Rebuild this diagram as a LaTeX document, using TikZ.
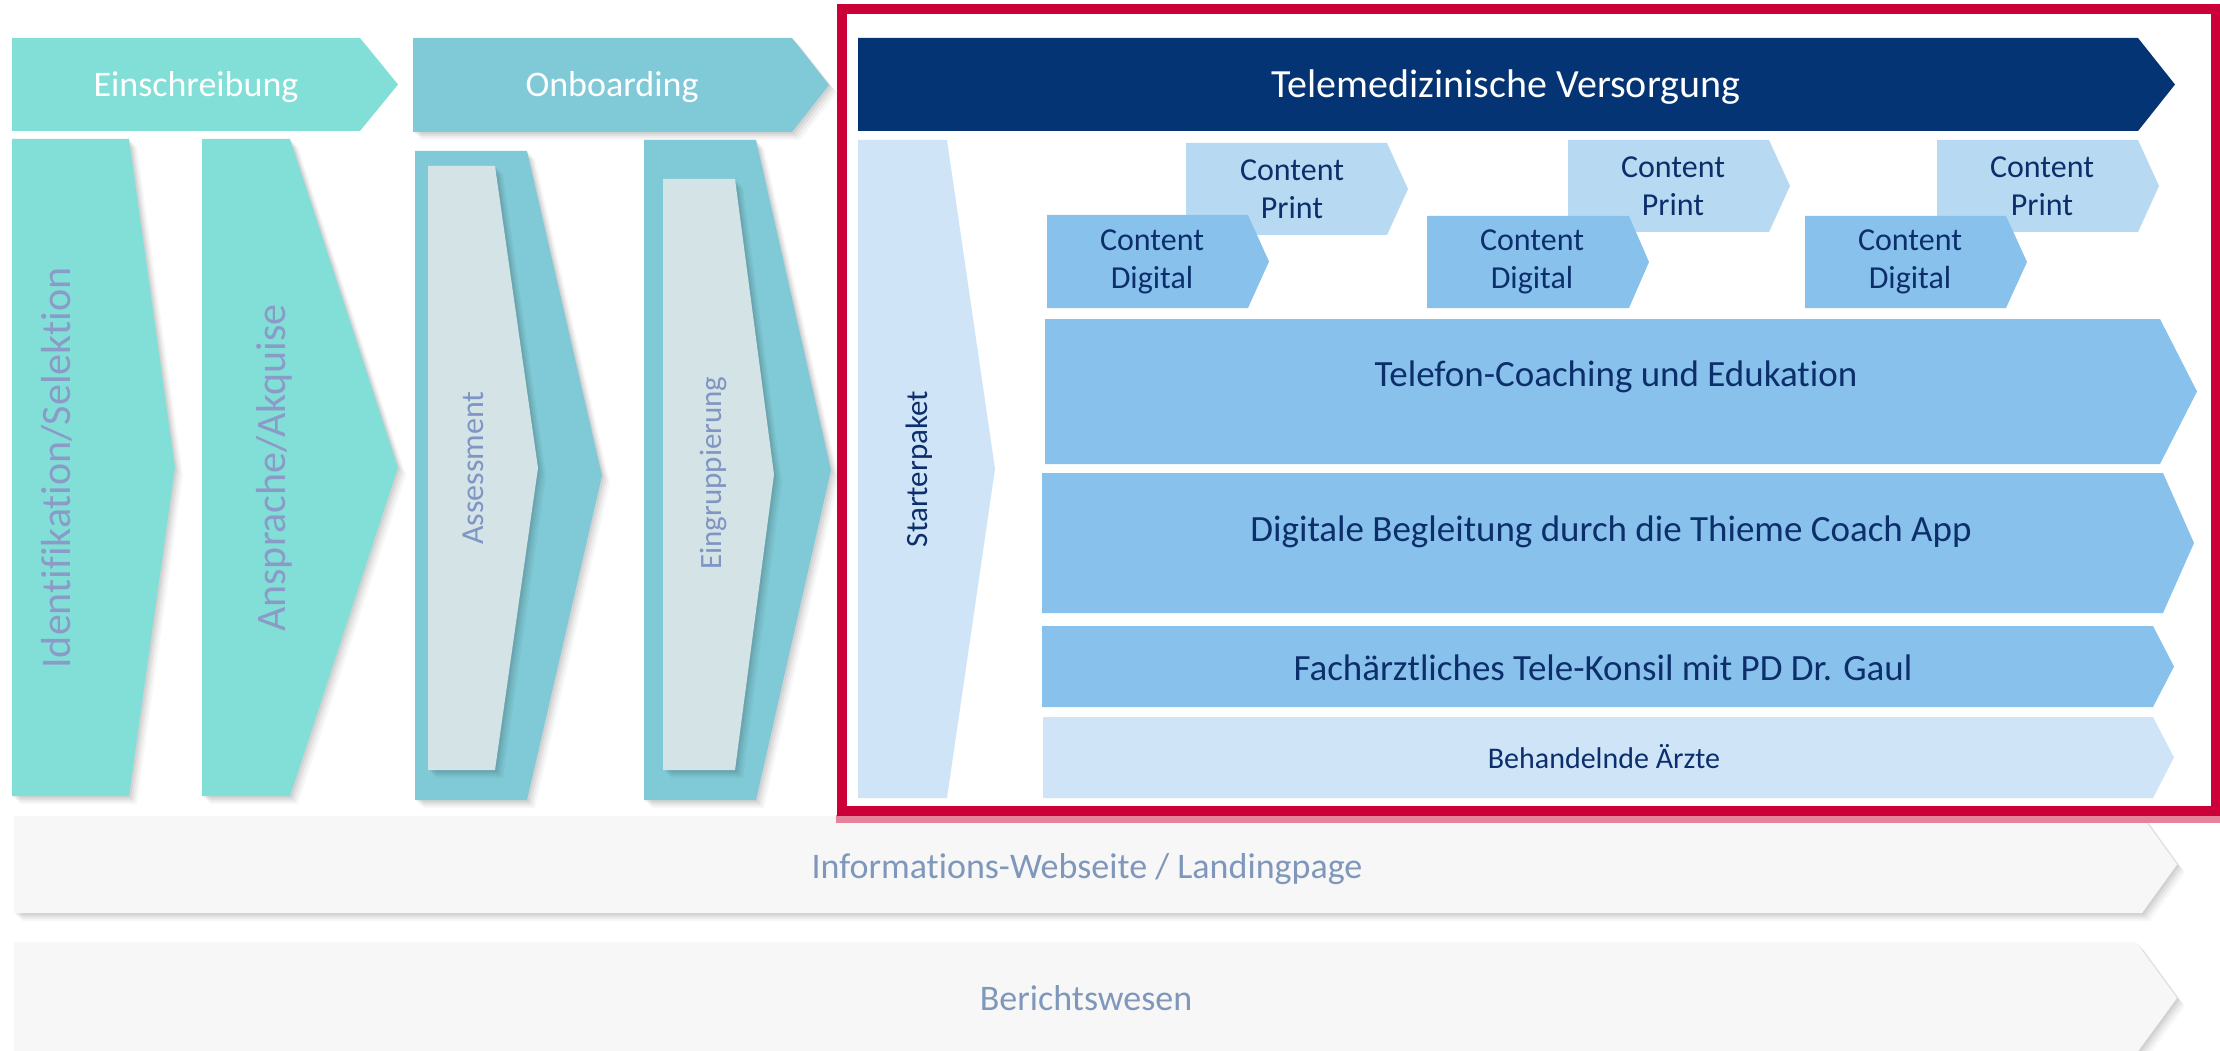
\documentclass[tikz,border=0pt]{standalone}
\usepackage{fontspec}
\setmainfont{Carlito}[Ligatures={NoCommon,NoRare,NoDiscretionary}]
\definecolor{cTurq}{HTML}{82DFD7}
\definecolor{cTeal}{HTML}{80C9D6}
\definecolor{cInner}{HTML}{D4E3E6}
\definecolor{cNavy}{HTML}{043474}
\definecolor{cPrint}{HTML}{B7DAF2}
\definecolor{cDigital}{HTML}{88C1EB}
\definecolor{cPale}{HTML}{CFE5F7}
\definecolor{cBar}{HTML}{F7F7F7}
\definecolor{cRed}{HTML}{CC0039}
\definecolor{cPink}{HTML}{E5839C}
\definecolor{cColTxt}{HTML}{8B9BC8}
\definecolor{cInTxt}{HTML}{7F95C3}
\definecolor{cBarTxt}{HTML}{7F97BA}
\definecolor{cDark}{HTML}{0C2F6C}
% chevron: x-left, y-top, x-body-right, x-tip, y-bottom
\newcommand\chev[5]{(#1,#2) -- (#3,#2) -- (#4,{(#2+#5)/2}) -- (#3,#5) -- (#1,#5) -- cycle}
\newcommand\shadowed[2]{%
  \foreach \d/\o in {8/0.03,6/0.04,4/0.05,2/0.06}{\fill[shadowlayer,opacity=\o,shift={(\d,\d)}] #2;}%
  \fill[#1] #2;}
\begin{document}
\begin{tikzpicture}[x=1pt,y=-1pt,
  shadowlayer/.style={fill=black},
  whitetxt/.style={text=white,inner sep=0pt},
  coltxt/.style={text=cColTxt,inner sep=0pt,rotate=90,anchor=base,font=\fontsize{42}{50}\selectfont},
  intxt/.style={text=cInTxt,inner sep=0pt,rotate=90,anchor=base,font=\fontsize{32}{38}\selectfont},
  darktxt/.style={text=cDark,inner sep=0pt},
  contenttxt/.style={text=cDark,inner sep=0pt,align=center,font=\fontsize{32}{38.4}\selectfont},
  bartxt/.style={text=cBarTxt,inner sep=0pt,anchor=base,font=\fontsize{36}{43}\selectfont},
  redframe/.style={draw=cRed,line width=10pt},
  pinkband/.style={fill=cPink}]
\useasboundingbox (0,0) rectangle (2220,1051);
\clip (0,0) rectangle (2220,1051);
\fill[white] (0,0) rectangle (2220,1051);

% header arrows
\fill[cTurq] \chev{12}{38}{360}{398}{131};
\node[whitetxt,anchor=base,font=\fontsize{36}{43}\selectfont] (einschreibung) at (196,97) {Einschreibung};
\shadowed{cTeal}{\chev{413}{38}{792}{829}{132}}
\node[whitetxt,anchor=base,font=\fontsize{36}{43}\selectfont] (onboarding) at (612,97) {Onboarding};
\fill[cNavy] \chev{858}{38}{2138}{2175}{131};
\node[whitetxt,anchor=base,font=\fontsize{40}{48}\selectfont] (telemed) at (1506,98) {Telemedizinische Versorgung};

% columns
\shadowed{cTurq}{\chev{12}{139}{129}{175}{796}}
\node[coltxt] (ident) at (70,468) {Identifikation/Selektion};
\shadowed{cTurq}{\chev{202}{139}{290}{398}{796}}
\node[coltxt] (ansprache) at (285,468) {Ansprache/Akquise};
\shadowed{cTeal}{\chev{415}{151}{527}{602}{800}}
\shadowed{cInner}{\chev{428}{166}{495}{538}{770}}
\node[intxt] (assessment) at (483,468) {Assessment};
\shadowed{cTeal}{\chev{644}{140}{756}{831}{800}}
\shadowed{cInner}{\chev{663}{179}{735}{774}{770}}
\node[intxt,font=\fontsize{31}{37}\selectfont] (eingr) at (721,473) {Eingruppierung};

% Starterpaket
\fill[cPale] \chev{858}{140}{947}{995}{798};
\node[darktxt,rotate=90,anchor=base,font=\fontsize{31}{37}\selectfont] (starter) at (927,469) {Starterpaket};

% content print
\fill[cPrint] \chev{1186}{143}{1387}{1408}{235};
\node[contenttxt] (print1) at (1292,189) {Content\\Print};
\fill[cPrint] \chev{1568}{140}{1769}{1790}{232};
\node[contenttxt] (print2) at (1673,186) {Content\\Print};
\fill[cPrint] \chev{1937}{140}{2138}{2159}{232};
\node[contenttxt] (print3) at (2042,186) {Content\\Print};
% content digital
\fill[cDigital] \chev{1047}{215}{1248}{1269}{308};
\node[contenttxt] (digital1) at (1152,262) {Content\\Digital};
\fill[cDigital] \chev{1427}{216}{1629}{1649}{308};
\node[contenttxt] (digital2) at (1532,262) {Content\\Digital};
\fill[cDigital] \chev{1805}{216}{2006}{2027}{308};
\node[contenttxt] (digital3) at (1910,262) {Content\\Digital};

% service bars
\fill[cDigital] \chev{1045}{319}{2160}{2197}{464};
\node[darktxt,anchor=base,font=\fontsize{37}{44}\selectfont] (telefon) at (1616,386) {Telefon-Coaching und Edukation};
\fill[cDigital] \chev{1042}{473}{2163}{2194}{613};
\node[darktxt,anchor=base,font=\fontsize{37}{44}\selectfont] (digitale) at (1611,541) {Digitale Begleitung durch die Thieme Coach App};
\fill[cDigital] \chev{1042}{626}{2153}{2174}{707};
\node[darktxt,anchor=base,font=\fontsize{37}{44}\selectfont] (fach) at (1603,680) {Fachärztliches Tele-Konsil mit PD Dr. Gaul};
\fill[cPale] \chev{1043}{717}{2153}{2174}{798};
\node[darktxt,anchor=base,font=\fontsize{30}{36}\selectfont] (behandelnde) at (1604,768) {Behandelnde Ärzte};

% bottom bars
\shadowed{cBar}{\chev{14}{816}{2142}{2177}{913}}
\node[bartxt] (info) at (1087,878) {Informations-Webseite / Landingpage};
\shadowed{cBar}{\chev{14}{942}{2136}{2177}{1054}}
\node[bartxt] (bericht) at (1086,1010) {Berichtswesen};

% red frame
\fill[pinkband] (836,815) rectangle (2220,823);
\draw[redframe] (842,9) rectangle (2216,811);
\end{tikzpicture}
\end{document}
